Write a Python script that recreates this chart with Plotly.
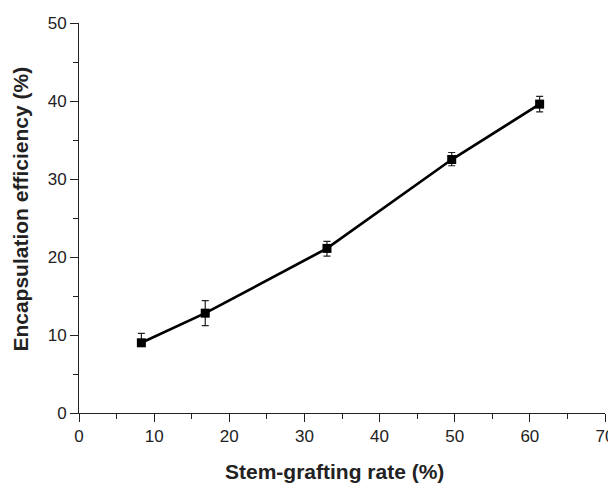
import plotly.graph_objects as go

grafting_rate = [8.3, 16.8, 33.0, 49.6, 61.3]
encapsulation = [9.0, 12.8, 21.1, 32.5, 39.6]
err_plus = [1.2, 1.6, 0.9, 0.9, 1.0]
err_minus = [0.4, 1.6, 1.0, 0.8, 1.0]

fig = go.Figure()
fig.add_trace(go.Scatter(
    x=grafting_rate, y=encapsulation, mode="lines+markers",
    line=dict(color="black", width=2.7),
    marker=dict(symbol="square", size=9, color="black"),
    error_y=dict(type="data", symmetric=False, array=err_plus, arrayminus=err_minus,
                 color="#222", thickness=1.2, width=3.5),
    showlegend=False,
))

fig.update_layout(
    width=608, height=475,
    margin=dict(l=71, r=11, t=15, b=70),
    paper_bgcolor="white", plot_bgcolor="white",
    font=dict(family="Liberation Sans, Arial", size=17, color="#222"),
    annotations=[
        dict(text="<b>Encapsulation efficiency (%)</b>", xref="paper", yref="paper",
             x=-0.113, y=0.523, xanchor="center", yanchor="middle", textangle=-90,
             showarrow=False, font=dict(size=21, color="#222")),
        dict(text="<b>Stem-grafting rate (%)</b>", xref="paper", yref="paper",
             x=0.486, y=-0.149, xanchor="center", yanchor="middle",
             showarrow=False, font=dict(size=21, color="#222")),
    ],
)
fig.update_xaxes(
    range=[0, 70], tickvals=[0, 10, 20, 30, 40, 50, 60, 70], automargin=False,
    showgrid=False, zeroline=False, showline=True, linecolor="#222", linewidth=1,
    ticks="outside", ticklen=8, tickcolor="#222",
    minor=dict(tickvals=[5, 15, 25, 35, 45, 55, 65], ticks="outside", ticklen=5, tickcolor="#222"),
)
fig.update_yaxes(
    range=[0, 50], tickvals=[0, 10, 20, 30, 40, 50], automargin=False,
    showgrid=False, zeroline=False, showline=True, linecolor="#222", linewidth=1,
    ticks="outside", ticklen=8, tickcolor="#222",
    minor=dict(tickvals=[5, 15, 25, 35, 45], ticks="outside", ticklen=5, tickcolor="#222"),
)

fig.write_html("out.html")
